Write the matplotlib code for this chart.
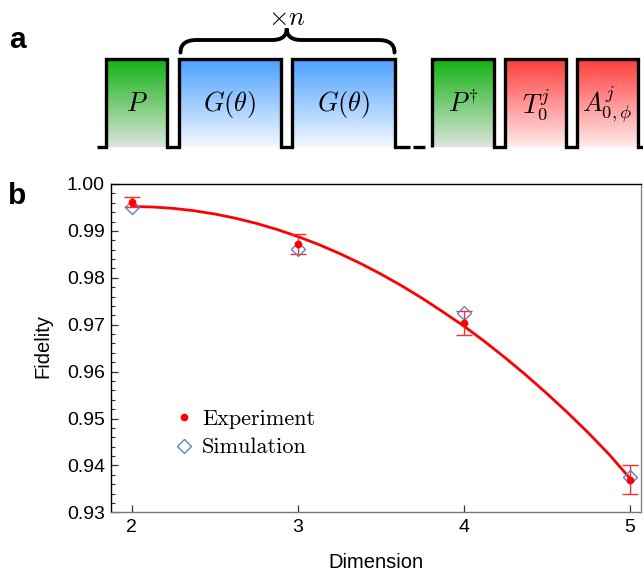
import numpy as np
import matplotlib
matplotlib.use("Agg")
import matplotlib.pyplot as plt
from matplotlib.path import Path
from matplotlib.patches import PathPatch
from matplotlib.lines import Line2D
from matplotlib.colors import LinearSegmentedColormap
from matplotlib.font_manager import FontProperties

plt.rcParams['mathtext.fontset'] = 'cm'
plt.rcParams['font.family'] = ['Liberation Sans', 'DejaVu Sans']

# ---------------- data (panel b) ----------------
dimension = [2, 3, 4, 5]
experiment = [0.9962, 0.9872, 0.9704, 0.9369]
experiment_err = [0.0011, 0.0022, 0.0025, 0.0031]
simulation = [0.9952, 0.9862, 0.9724, 0.9376]
fit_dimension = [2.0, 2.125, 2.25, 2.375, 2.5, 2.625, 2.75, 2.875, 3.0,
                 3.125, 3.25, 3.375, 3.5, 3.625, 3.75, 3.875, 4.0,
                 4.125, 4.25, 4.375, 4.5, 4.625, 4.75, 4.875, 5.0]
fit_fidelity = [0.9952, 0.9951, 0.9948, 0.9943, 0.9936, 0.9927, 0.9916, 0.9903, 0.9888,
                0.9871, 0.9852, 0.9831, 0.9808, 0.9783, 0.9756, 0.9727, 0.9697,
                0.9664, 0.9629, 0.9592, 0.9553, 0.9512, 0.9469, 0.9423, 0.9372]
x_ticks = [2, 3, 4, 5]
y_ticks = [0.93, 0.94, 0.95, 0.96, 0.97, 0.98, 0.99, 1.00]
y_tick_labels = ['0.93', '0.94', '0.95', '0.96', '0.97', '0.98', '0.99', '1.00']
legend_labels = ['Experiment', 'Simulation']

# ---------------- schematic (panel a) ----------------
pulse_labels = [r'$P$', r'$G(\theta)$', r'$G(\theta)$', r'$P^{\dagger}$', r'$T_0^j$', r'$A^j_{0,\phi}$']
pulse_kinds = ['green', 'blue', 'blue', 'green', 'red', 'red']
repeat_label = r'$\times n$'

W, H = 643, 575
fig = plt.figure(figsize=(W / 100, H / 100), dpi=100)

# layout of panel a in pixel units
pulse_left = [106, 179, 291.7, 432.3, 504.7, 577]
pulse_right = [167.3, 280.7, 394.7, 494, 566.3, 638]
base_y, top_y = 146.7, 59.3
grad_colors = {
    'green': ('#12b312', '#dbe4db'),
    'blue': ('#4aa0ff', '#f4f8ff'),
    'red': ('#ff3c3c', '#ffecec'),
}

axa = fig.add_axes([0, 1 - 165 / H, 1, 165 / H])
axa.set_axis_off()
grad = np.linspace(0, 1, 256).reshape(-1, 1)
for lab, kind, l, r in zip(pulse_labels, pulse_kinds, pulse_left, pulse_right):
    c0, c1 = grad_colors[kind]
    cmap = LinearSegmentedColormap.from_list(kind, [c0, c1])
    axa.imshow(grad, extent=(l, r, base_y, top_y), origin='upper',
               aspect='auto', cmap=cmap, interpolation='bilinear', zorder=1)
    axa.text((l + r) / 2, (base_y + top_y) / 2 + 1, lab, ha='center', va='center',
             fontsize=19, zorder=3)

lw_wave = 2.4
b = list(zip(pulse_left, pulse_right))

xs, ys = [96.7], [base_y]
for l, r in b[:3]:
    xs += [l, l, r, r]
    ys += [base_y, top_y, top_y, base_y]
xs.append(409.5); ys.append(base_y)
axa.plot(xs, ys, color='black', lw=lw_wave, solid_joinstyle='miter',
         solid_capstyle='butt', zorder=4)
axa.plot([413, 424.7], [base_y, base_y], color='black', lw=lw_wave,
         solid_capstyle='butt', zorder=4)
xs, ys = [], []
for l, r in b[3:]:
    xs += [l, l, r, r]
    ys += [base_y, top_y, top_y, base_y]
xs.append(650); ys.append(base_y)
axa.plot(xs, ys, color='black', lw=lw_wave, solid_joinstyle='miter',
         solid_capstyle='butt', zorder=4)

# brace
verts = [(180.5, 52.5),
         (180.5, 44), (186, 40), (197, 40),
         (272, 40),
         (282, 40), (286.7, 36), (286.7, 28.5),
         (286.7, 36), (291.4, 40), (301.4, 40),
         (378, 40),
         (389, 40), (394.5, 44), (394.5, 52.5)]
codes = [Path.MOVETO,
         Path.CURVE4, Path.CURVE4, Path.CURVE4,
         Path.LINETO,
         Path.CURVE4, Path.CURVE4, Path.CURVE4,
         Path.CURVE4, Path.CURVE4, Path.CURVE4,
         Path.LINETO,
         Path.CURVE4, Path.CURVE4, Path.CURVE4]
axa.add_patch(PathPatch(Path(verts, codes), fill=False, lw=2.8, color='black',
                        capstyle='round', zorder=4))
axa.text(286.7, 18, repeat_label, ha='center', va='center', fontsize=19)
axa.set_xlim(0, W)
axa.set_ylim(165, 0)

fig.text(17.5 / W, 1 - 47.7 / H, 'a', fontsize=21.5, fontweight='bold',
         ha='center', va='baseline')
fig.text(17.5 / W, 1 - 204.3 / H, 'b', fontsize=21.5, fontweight='bold',
         ha='center', va='baseline')

# ---------------- panel b ----------------
L, R, T, B = 110.5, 640.7, 184, 512.3
ax = fig.add_axes([L / W, 1 - B / H, (R - L) / W, (B - T) / H])
ax.plot(fit_dimension, fit_fidelity, color='#ff0000', lw=2.0, zorder=2)
ax.errorbar(dimension, experiment, yerr=experiment_err, fmt='none',
            ecolor='#ff2a2a', elinewidth=1.0, capsize=6, capthick=1.0, zorder=3)
ax.plot(dimension, simulation, linestyle='none', marker='D', ms=7.6,
        mfc='none', mec='#5f82c4', mew=1.0, zorder=4)
ax.plot(dimension, experiment, linestyle='none', marker='o', ms=4.5,
        color='#ff0000', zorder=5)

ax.set_xlim(1.872, 5.064)
ax.set_ylim(0.93, 1.00)
ax.set_xticks(x_ticks)
ax.set_xticklabels([str(v) for v in x_ticks])
ax.set_yticks(y_ticks)
ax.set_yticklabels(y_tick_labels)
ax.set_yticks(np.arange(0.932, 1.0, 0.002), minor=True)
ax.tick_params(axis='both', which='major', direction='in', labelsize=14,
               length=5, width=0.9, color='#333333')
ax.tick_params(axis='y', which='major', pad=4)
ax.tick_params(axis='x', which='major', pad=4.5)
ax.tick_params(axis='y', which='minor', direction='in', length=3, width=0.8,
               color='#333333')
ax.tick_params(axis='x', which='minor', length=0)
ax.spines['top'].set_color('black')
ax.spines['left'].set_color('black')
ax.spines['right'].set_color('#888888')
ax.spines['bottom'].set_color('#777777')
for s in ax.spines.values():
    s.set_linewidth(1.0)

fig.text(375.6 / W, 1 - 562 / H, 'Dimension', fontsize=14.5, ha='center', va='center')
fig.text(43 / W, 1 - 346 / H, 'Fidelity', fontsize=14.5, ha='center', va='center',
         rotation=90)

handles = [Line2D([], [], linestyle='none', marker='o', ms=4.5, color='#ff0000'),
           Line2D([], [], linestyle='none', marker='D', ms=7.6, mfc='none',
                  mec='#5f82c4', mew=1.0)]
leg = ax.legend(handles, legend_labels, prop=FontProperties(family='cmr10', size=16),
                frameon=False, loc='upper left',
                bbox_to_anchor=(171 / W, 1 - 409 / H), bbox_transform=fig.transFigure,
                handlelength=1.2, handletextpad=0.2, borderpad=0, borderaxespad=0,
                labelspacing=0.42)

fig.savefig('out.png', dpi=100, facecolor='white')
